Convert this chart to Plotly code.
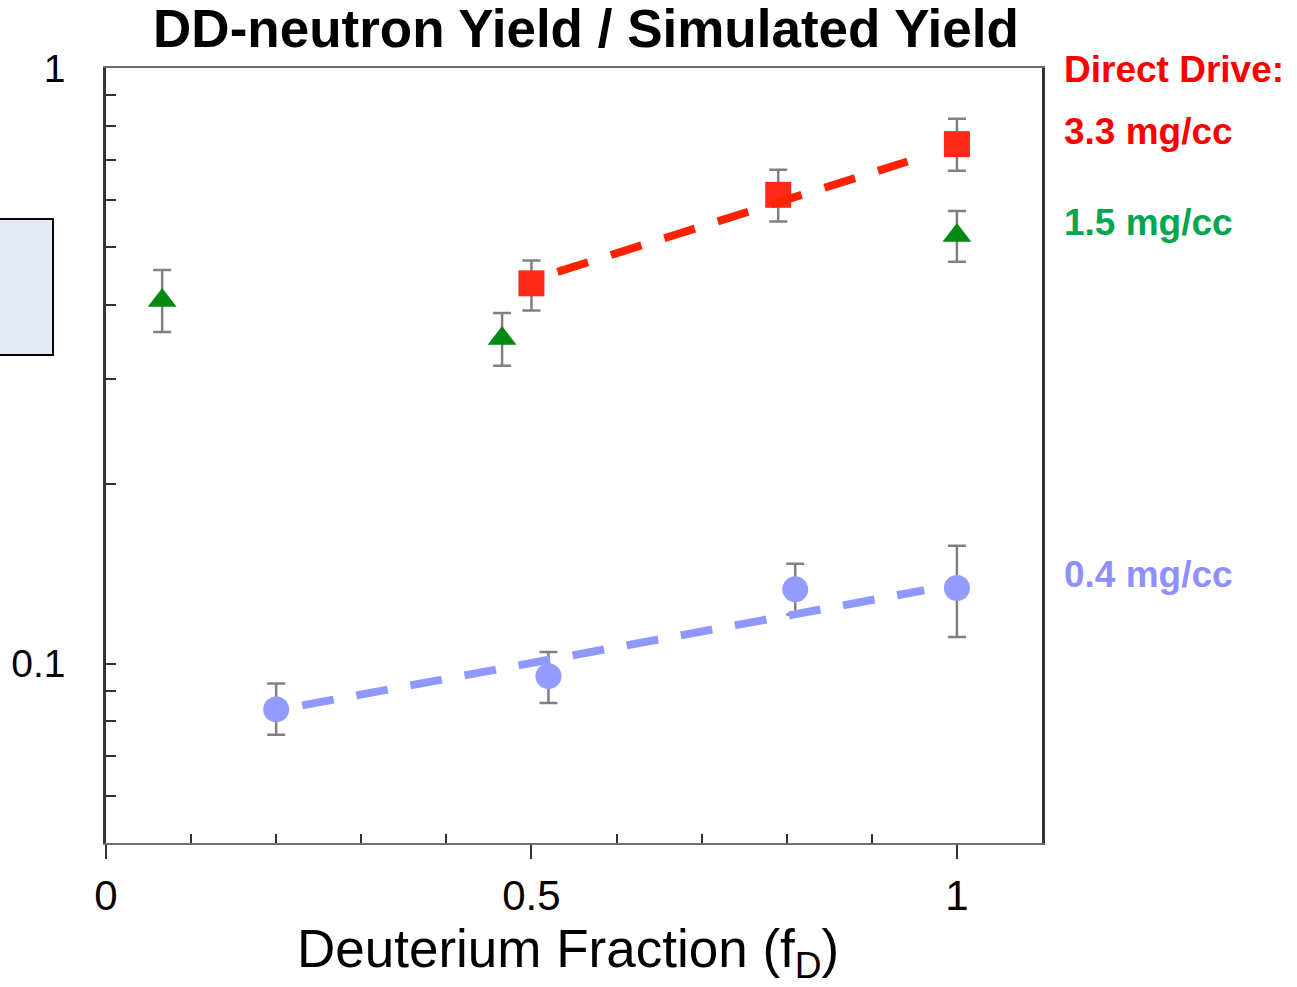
import numpy as np
import plotly.graph_objects as go

# ---- data -------------------------------------------------------------
# 3.3 mg/cc fill (red squares)
fd_33 = [0.50, 0.79, 1.00]
y_33 = [0.435, 0.6125, 0.745]
y_33_hi = [0.475, 0.675, 0.822]
y_33_lo = [0.3915, 0.5525, 0.672]

# 1.5 mg/cc fill (green triangles)
fd_15 = [0.066, 0.4655, 1.00]
y_15 = [0.407, 0.3515, 0.5236]
y_15_hi = [0.458, 0.388, 0.5755]
y_15_lo = [0.3605, 0.3163, 0.473]

# 0.4 mg/cc fill (blue circles)
fd_04 = [0.20, 0.52, 0.81, 1.00]
y_04 = [0.0838, 0.0953, 0.1333, 0.134]
y_04_hi = [0.0926, 0.1046, 0.1472, 0.1577]
y_04_lo = [0.076, 0.0859, 0.1209, 0.1109]

# fitted trend lines (end points)
fit_33_x = [0.5306, 0.942]
fit_33_y = [0.4547, 0.6966]
fit_04_x = [0.2306, 0.9615]
fit_04_y = [0.0851, 0.1328]

# axis ticks
x_major = [0, 0.5, 1]
x_major_text = ["0", "0.5", "1"]
x_minor = [0.1, 0.2, 0.3, 0.4, 0.6, 0.7, 0.8, 0.9]
y_major = [0.1, 1.0]
y_major_text = ["0.1", "1"]
y_minor = [0.05, 0.06, 0.07, 0.08, 0.09, 0.2, 0.3, 0.4, 0.5, 0.6, 0.7, 0.8, 0.9]

FONT = "Liberation Sans, Arial, sans-serif"
ERR_COLOR = "#808080"
AXIS_DARK = "#333333"

# ---- layout geometry (pixels) ----------------------------------------
W, H = 1297, 987
L, R, T, B = 106, 255, 68, 144
PW, PH = W - L - R, H - T - B


def px_x(px):
    return (px - L) / PW


def px_y(py):
    return (H - B - py) / PH


def err(y, hi, lo):
    return dict(
        type="data",
        symmetric=False,
        array=list(np.array(hi) - np.array(y)),
        arrayminus=list(np.array(y) - np.array(lo)),
        color=ERR_COLOR,
        thickness=2.5,
        width=9,
    )


fig = go.Figure()

fig.add_trace(go.Scatter(
    x=fd_15, y=y_15, mode="markers",
    marker=dict(symbol="triangle-up", size=25, color="#008A14"),
    error_y=err(y_15, y_15_hi, y_15_lo), showlegend=False,
))
fig.add_trace(go.Scatter(
    x=fd_33, y=y_33, mode="markers",
    marker=dict(symbol="square", size=26, color="#FF2A1A"),
    error_y=err(y_33, y_33_hi, y_33_lo), showlegend=False,
))
fig.add_trace(go.Scatter(
    x=fd_04, y=y_04, mode="markers",
    marker=dict(symbol="circle", size=26, color="#939BFF"),
    error_y=err(y_04, y_04_hi, y_04_lo), showlegend=False,
))

# dashed fit lines sit on top of the markers
fig.add_trace(go.Scatter(
    x=fit_33_x, y=fit_33_y, mode="lines",
    line=dict(color="#FF2200", width=8, dash="32px,24px"), showlegend=False,
))
fig.add_trace(go.Scatter(
    x=fit_04_x, y=fit_04_y, mode="lines",
    line=dict(color="#8F98FF", width=8, dash="32px,23px"), showlegend=False,
))

fig.update_layout(
    width=W, height=H,
    margin=dict(l=L, r=R, t=T, b=B, pad=0, autoexpand=False),
    paper_bgcolor="white", plot_bgcolor="white",
    font=dict(family=FONT, color="black"),
    title=dict(
        text="<b>DD-neutron Yield / Simulated Yield</b>",
        font=dict(family=FONT, size=53, color="black"),
        x=586 / W, xanchor="center", y=1 - 28 / H, yanchor="middle",
        automargin=False,
    ),
    xaxis=dict(
        range=[0, 1.1], showgrid=False, zeroline=False, automargin=False,
        showline=True, linecolor="#6e6e6e", linewidth=2, mirror=True,
        tickmode="array", tickvals=x_major, ticktext=x_major_text,
        ticks="outside", ticklen=14, tickwidth=2, tickcolor=AXIS_DARK,
        tickfont=dict(family=FONT, size=42, color="black"),
        ticklabelstandoff=1,
        minor=dict(tickmode="array", tickvals=x_minor, ticks="inside",
                   ticklen=9, tickwidth=2, tickcolor=AXIS_DARK, showgrid=False),
    ),
    xaxis2=dict(
        range=[0, 1.1], overlaying="x", side="bottom", anchor="y",
        showgrid=False, zeroline=False, showline=False, automargin=False,
        tickmode="array", tickvals=x_major, showticklabels=False,
        ticks="inside", ticklen=12, tickwidth=2, tickcolor=AXIS_DARK,
    ),
    yaxis=dict(
        type="log", range=[np.log10(0.05), 0],
        showgrid=False, zeroline=False, automargin=False,
        showline=True, linecolor=AXIS_DARK, linewidth=2.5, mirror=True,
        tickmode="array", tickvals=y_major, ticktext=y_major_text,
        ticks="inside", ticklen=10, tickwidth=2, tickcolor=AXIS_DARK,
        tickfont=dict(family=FONT, size=39, color="black"),
        ticklabelstandoff=30,
        minor=dict(tickmode="array", tickvals=y_minor, ticks="inside",
                   ticklen=10, tickwidth=2, tickcolor=AXIS_DARK, showgrid=False),
    ),
)

# x-axis title
fig.add_annotation(
    text="Deuterium Fraction (f<sub>D</sub>)", xref="paper", yref="paper",
    x=px_x(568), y=px_y(952), xanchor="center", yanchor="middle",
    showarrow=False, font=dict(family=FONT, size=53, color="black"),
)

# light-blue box peeking in at the left edge
fig.add_shape(
    type="rect", xref="paper", yref="paper",
    x0=px_x(-5), x1=px_x(53), y0=px_y(355), y1=px_y(219),
    fillcolor="#E3EAF4", line=dict(color="black", width=2), layer="below",
)

# right-hand labels
labels = [
    ("Direct Drive:", "#FF0000", 70),
    ("3.3 mg/cc", "#FF0000", 131),
    ("1.5 mg/cc", "#00A650", 222),
    ("0.4 mg/cc", "#8F8FFF", 574),
]
for text, color, py in labels:
    fig.add_annotation(
        text=f"<b>{text}</b>", xref="paper", yref="paper",
        x=px_x(1062), y=px_y(py), xanchor="left", yanchor="middle",
        showarrow=False, font=dict(family=FONT, size=37, color=color),
    )

fig.write_html("out.html")
